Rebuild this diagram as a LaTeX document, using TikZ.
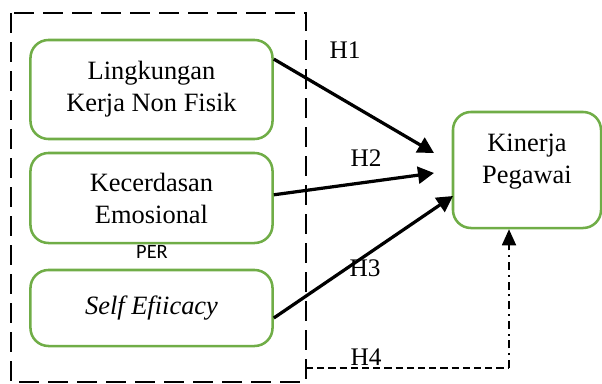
\documentclass[tikz,border=0pt]{standalone}
\usepackage{fontspec}
\setmainfont{Liberation Serif}
\newfontfamily\perfont{Carlito}
\usetikzlibrary{arrows.meta}
\definecolor{boxgreen}{RGB}{112,173,71}
\tikzset{
	varbox/.style={rectangle, draw=boxgreen, line width=1.8pt, rounded corners=0.45cm, align=center, font=\fontsize{18.8}{22.7}\selectfont},
	hyparrow/.style={line width=2.3pt, -{Triangle[length=0.4cm, width=0.42cm]}},
	hyplabel/.style={font=\fontsize{18}{22}\selectfont}
}
\begin{document}
\begin{tikzpicture}[x=0.025cm, y=0.025cm]
	\useasboundingbox (0, 0) rectangle (602, 383);
	
	% group around the three independent variables
	\draw [line width=2.1pt, dash pattern=on 0.5cm off 0.225cm] (11, 370) rectangle (306, 1);
	\coordinate (g) at (306, 15);
	
	\foreach \i/\y/\h/\t in {1/293.5/2.475/{Lingkungan\\Kerja Non Fisik}, 2/185/2.25/{Kecerdasan\\Emosional}, 3/75/1.9/{\textit{Self Efiicacy}}} {
		\node (b\i) [varbox, minimum width=6.05cm, minimum height=\h cm] at (151.5, \y) {\t};
	}
	
	\node (per) [font=\perfont\fontsize{14.5}{16}\selectfont] at (152, 131) {PER};
	
	\node (kinerja) [varbox, minimum width=3.7cm, minimum height=2.9cm] at (527, 213) {};
	\node (kintext) [align=center, font=\fontsize{18.8}{22.7}\selectfont] at ([yshift=0.22cm]kinerja.center) {Kinerja\\Pegawai};
	
	\coordinate (t1) at (434, 230);
	\coordinate (t2) at (434, 210);
	\coordinate (t3) at (453, 187);
	
	\draw [hyparrow] ([yshift=0.76cm]b1.east) -- (t1);
	\draw [hyparrow] ([yshift=0.08cm]b2.east) -- (t2);
	\draw [hyparrow] ([yshift=-0.25cm]b3.east) -- (t3);
	
	\node (h1) [hyplabel] at (345, 333) {H1};
	\node (h2) [hyplabel] at (366, 225) {H2};
	\node (h3) [hyplabel] at (365, 115) {H3};
	\node (h4) [hyplabel] at (366, 26) {H4};
	
	% moderating path
	\coordinate (c4) at (509, 15);
	\draw [line width=1.1pt, dash pattern=on 0.18cm off 0.1cm] (g) -- (c4);
	\draw [line width=1.3pt, dash pattern=on 0.2cm off 0.12cm on 0.05cm off 0.12cm, -{Triangle[length=0.4cm, width=0.35cm]}] (c4) -- (c4 |- kinerja.south);
	
\end{tikzpicture}
\end{document}
